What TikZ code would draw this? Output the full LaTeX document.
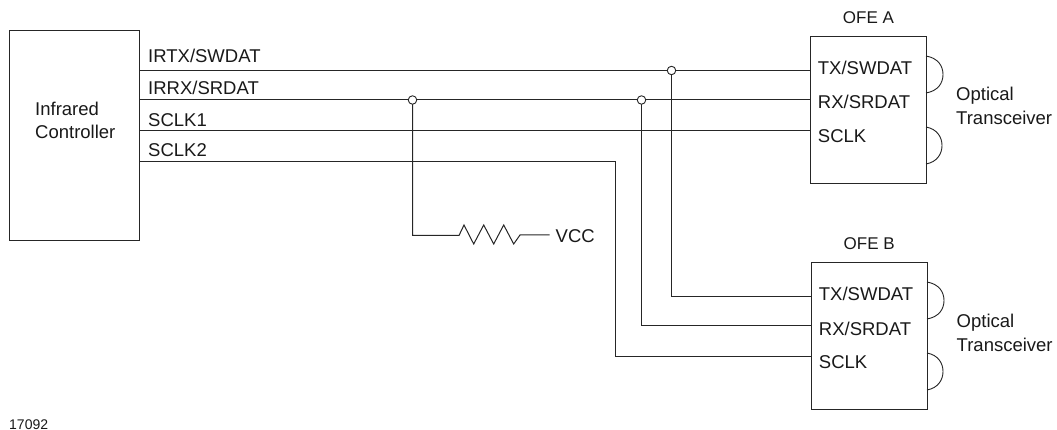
\documentclass[tikz,border=0pt]{standalone}
\usepackage{fontspec}
\setmainfont{Liberation Sans}
\usetikzlibrary{calc}
\tikzset{
  x=1pt,y=-1pt,
  wire/.style={line width=1pt,color=black!85,line join=miter},
  lobe/.style={line width=0.9pt,color=black!85},
  blockbox/.style={draw=black!85,line width=1.1pt,fill=white,inner sep=0pt,anchor=north west},
  lbl/.style={inner sep=0pt,anchor=base west,font=\fontsize{18.5}{20}\selectfont,text=black!90},
  headlbl/.style={inner sep=0pt,anchor=base west,font=\fontsize{17}{18}\selectfont,text=black!90},
  small/.style={inner sep=0pt,anchor=base west,font=\fontsize{14}{15}\selectfont,text=black!90},
  junction/.style={circle,draw=black!85,line width=0.9pt,fill=white,inner sep=0pt,minimum size=8.5pt},
}
\begin{document}
\begin{tikzpicture}
\useasboundingbox (0,0) rectangle (1057,430);
% blocks
\node[blockbox,minimum width=130pt,minimum height=210pt] (ctrl) at (9,30) {};
\node[blockbox,minimum width=116pt,minimum height=147pt] (ofea) at (810,36) {};
\node[blockbox,minimum width=116pt,minimum height=147pt] (ofeb) at (811,262) {};
% pin coordinates
\coordinate (c1) at (139,70.5);
\coordinate (c2) at (139,100);
\coordinate (c3) at (139,130.5);
\coordinate (c4) at (139,161.5);
\coordinate (a1) at (810,70.5);
\coordinate (a2) at (810,100);
\coordinate (a3) at (810,130.5);
\coordinate (b1) at (811,296.5);
\coordinate (b2) at (811,325);
\coordinate (b3) at (811,356.5);
\coordinate (turn) at (615,161.5);
\coordinate (turnb) at (615,356.5);
\coordinate (rcorner) at (412.5,235.5);
\coordinate (rin) at (459,235.5);
\coordinate (rout) at (520,235);
\coordinate (vccend) at (549.5,235);
\coordinate (j1top) at (412.5,100);
\coordinate (j2top) at (641.5,100);
\coordinate (j3top) at (671.5,70.5);
\coordinate (tb) at (671.5,296.5);
\coordinate (rb) at (641.5,325);
% wires
\draw[wire] (c1) -- (a1);
\draw[wire] (c2) -- (a2);
\draw[wire] (c3) -- (a3);
\draw[wire] (c4) -- (turn) -- (turnb) -- (b3);
\draw[wire] (j3top) -- (tb) -- (b1);
\draw[wire] (j2top) -- (rb) -- (b2);
\draw[wire] (j1top) -- (rcorner) -- (rin) -- (464,225) -- (473.7,244) -- (483.7,225) -- (493.7,244) -- (503.7,225) -- (513.7,244) -- (rout) -- (vccend);
% junctions
\node[junction] (j1) at (j1top) {};
\node[junction] (j2) at (j2top) {};
\node[junction] (j3) at (j3top) {};
% optical lobes
\draw[lobe] (926,56) .. controls (938,58) and (943,66) .. (943,74.5) .. controls (943,83) and (938,91) .. (926,93);
\draw[lobe] (926,127) .. controls (937,129) and (942,137) .. (942,145.5) .. controls (942,154) and (937,162) .. (926,164);
\draw[lobe] (927,282) .. controls (939,284) and (944,292) .. (944,300.5) .. controls (944,309) and (939,317) .. (927,319);
\draw[lobe] (927,353) .. controls (938,355) and (943,363) .. (943,371.5) .. controls (943,380) and (938,388) .. (927,390);
% labels
\node[lbl] (t1) at (148,62.7) {IRTX/SWDAT};
\node[lbl] (t2) at (148,95) {IRRX/SRDAT};
\node[lbl] (t3) at (148,126.7) {SCLK1};
\node[lbl] (t4) at (148,157) {SCLK2};
\node[lbl] (t5) at (35,116) {Infrared};
\node[lbl] (t6) at (35,139) {Controller};
\node[lbl] (vcc) at (555.5,242.5) {VCC};
\node[lbl] (at1) at (817.7,75) {TX/SWDAT};
\node[lbl] (at2) at (817.7,108.7) {RX/SRDAT};
\node[lbl] (at3) at (817.7,142.7) {SCLK};
\node[headlbl] (ahead) at (842.7,24) {OFE A};
\node[lbl] (ao1) at (956,101) {Optical};
\node[lbl] (ao2) at (956,125) {Transceiver};
\node[lbl] (bt1) at (818.7,301) {TX/SWDAT};
\node[lbl] (bt2) at (818.7,335) {RX/SRDAT};
\node[lbl] (bt3) at (818.7,368) {SCLK};
\node[headlbl] (bhead) at (843.5,250) {OFE B};
\node[lbl] (bo1) at (956.5,327) {Optical};
\node[lbl] (bo2) at (956.5,351) {Transceiver};
\node[small] (fig) at (9,429) {17092};
\end{tikzpicture}
\end{document}
